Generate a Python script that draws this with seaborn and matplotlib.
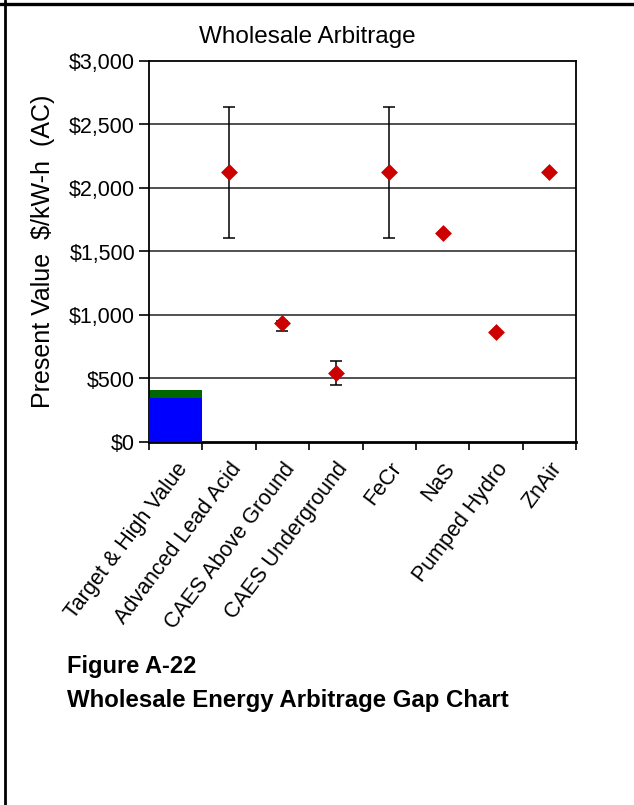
import numpy as np
import pandas as pd
import matplotlib
matplotlib.use('Agg')
import matplotlib.pyplot as plt
from matplotlib.lines import Line2D
import seaborn as sns

categories = ['Target & High Value', 'Advanced Lead Acid', 'CAES Above Ground',
              'CAES Underground', 'FeCr', 'NaS', 'Pumped Hydro', 'ZnAir']
target_value = [350, np.nan, np.nan, np.nan, np.nan, np.nan, np.nan, np.nan]
high_value = [410, np.nan, np.nan, np.nan, np.nan, np.nan, np.nan, np.nan]
cost = [np.nan, 2125, 935, 545, 2125, 1645, 865, 2125]
cost_low = [np.nan, 1605, 875, 445, 1605, np.nan, np.nan, np.nan]
cost_high = [np.nan, 2635, 950, 635, 2635, np.nan, np.nan, np.nan]
yticks = [0, 500, 1000, 1500, 2000, 2500, 3000]

df = pd.DataFrame({'tech': categories, 'target': target_value, 'high': high_value,
                   'cost': cost, 'low': cost_low, 'hi': cost_high})

sns.set_style('white')
plt.rcParams['font.family'] = ['Liberation Sans', 'DejaVu Sans']
plt.rcParams['text.color'] = 'black'
plt.rcParams['axes.labelcolor'] = 'black'
plt.rcParams['xtick.color'] = 'black'
plt.rcParams['ytick.color'] = 'black'

fig = plt.figure(figsize=(6.34, 8.05), dpi=100)
ax = fig.add_axes([149/634, 1-442/805, (576-149)/634, (442-61)/805])

# stacked target bar: high value (green) behind, target (blue) in front
sns.barplot(data=df, x='tech', y='high', order=categories, color='#006600',
            width=1.0, saturation=1, linewidth=0, ax=ax, zorder=2)
sns.barplot(data=df, x='tech', y='target', order=categories, color='#0000FF',
            width=1.0, saturation=1, linewidth=0, ax=ax, zorder=3)

xpos = np.arange(len(categories))
err = np.array([df['cost'] - df['low'], df['hi'] - df['cost']])
ax.errorbar(xpos, df['cost'], yerr=err, fmt='none', ecolor='black',
            elinewidth=1.1, capsize=4, capthick=1.1, zorder=4)
sns.scatterplot(x=xpos, y=df['cost'], marker='D', color='#CC0000', s=65,
                edgecolor='#CC0000', linewidth=0.5, ax=ax, zorder=5, legend=False)

ax.set_ylim(0, 3000)
ax.set_xlim(-0.5, len(categories) - 0.5)
ax.set_yticks(yticks)
ax.set_yticklabels(['${:,}'.format(v) for v in yticks], fontsize=15.5)
for v in yticks[1:-1]:
    ax.axhline(v, color='#333333', lw=1.2, zorder=1)

ax.set_xticks(xpos)
ax.set_xticks(np.arange(-0.5, len(categories)), minor=True)
ax.set_xticklabels(categories, rotation=53, ha='right', va='top',
                   rotation_mode='anchor', fontsize=15.5)
ax.tick_params(axis='x', which='major', length=0, pad=12)
ax.tick_params(axis='x', which='minor', length=6, width=1.2, color='black', direction='out', bottom=True)
ax.tick_params(axis='y', length=7, width=1.2, color='black', direction='out', left=True, pad=3)

ax.set_xlabel('')
ax.set_ylabel('Present Value  $/kW-h  (AC)', fontsize=18, labelpad=10)
for s in ax.spines.values():
    s.set_color('black')
    s.set_linewidth(1.3)
ax.spines['bottom'].set_linewidth(2)

fig.text(307/634, 1-37/805, 'Wholesale Arbitrage', ha='center', va='center', fontsize=17.5)
fig.text(67/634, 1-666/805, 'Figure A-22', ha='left', va='center', fontsize=17, fontweight='bold')
fig.text(67/634, 1-700/805, 'Wholesale Energy Arbitrage Gap Chart', ha='left', va='center',
         fontsize=17.3, fontweight='bold')

# page frame
fig.add_artist(Line2D([0, 1], [1-4.5/805, 1-4.5/805], color='black', lw=2.4, transform=fig.transFigure))
fig.add_artist(Line2D([5/634, 5/634], [0, 1], color='black', lw=2, transform=fig.transFigure))

fig.savefig('out.png', dpi=100)
